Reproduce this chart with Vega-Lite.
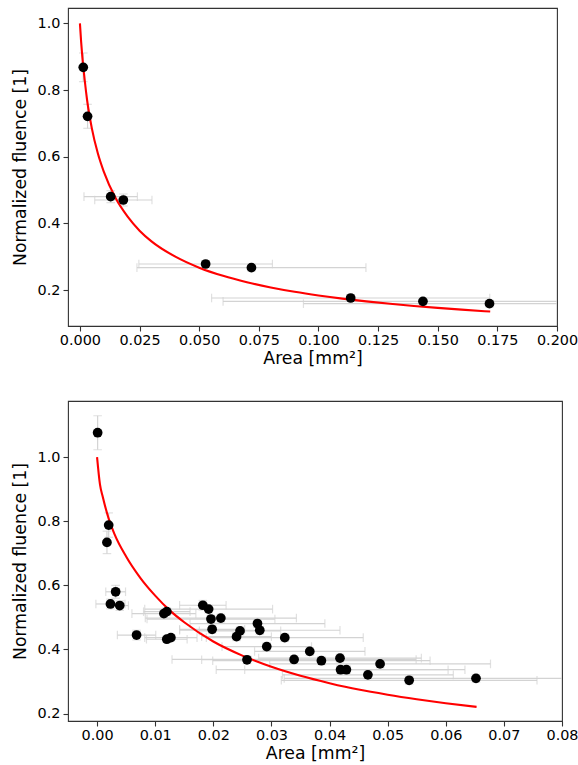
{
  "$schema": "https://vega.github.io/schema/vega-lite/v6.json",
  "padding": {"left": 10, "top": 7, "right": 0, "bottom": 0},
  "spacing": 32,
  "datasets": {
    "top": [
      {"a": 0.0014, "f": 0.868, "a_lo": 0.0009, "a_hi": 0.0019, "f_lo": 0.825, "f_hi": 0.911},
      {"a": 0.0032, "f": 0.721, "a_lo": 0.0024, "a_hi": 0.0040, "f_lo": 0.685, "f_hi": 0.757},
      {"a": 0.0129, "f": 0.480, "a_lo": 0.0017, "a_hi": 0.0241, "f_lo": 0.462, "f_hi": 0.498},
      {"a": 0.0182, "f": 0.470, "a_lo": 0.0062, "a_hi": 0.0302, "f_lo": 0.452, "f_hi": 0.488},
      {"a": 0.0527, "f": 0.278, "a_lo": 0.0247, "a_hi": 0.0807, "f_lo": 0.268, "f_hi": 0.288},
      {"a": 0.0719, "f": 0.267, "a_lo": 0.0239, "a_hi": 0.1199, "f_lo": 0.257, "f_hi": 0.277},
      {"a": 0.1135, "f": 0.176, "a_lo": 0.0552, "a_hi": 0.1718, "f_lo": 0.166, "f_hi": 0.186},
      {"a": 0.1438, "f": 0.166, "a_lo": 0.0600, "a_hi": 0.2276, "f_lo": 0.156, "f_hi": 0.176},
      {"a": 0.1717, "f": 0.159, "a_lo": 0.0937, "a_hi": 0.2497, "f_lo": 0.149, "f_hi": 0.169}
    ],
    "topfit": [
      {"a": 0, "f": 1.0}, {"a": 0.0005, "f": 0.945}, {"a": 0.001, "f": 0.90}, {"a": 0.002, "f": 0.83},
      {"a": 0.003, "f": 0.77}, {"a": 0.005, "f": 0.685}, {"a": 0.0075, "f": 0.61}, {"a": 0.01, "f": 0.555},
      {"a": 0.015, "f": 0.475}, {"a": 0.02, "f": 0.42}, {"a": 0.025, "f": 0.378}, {"a": 0.03, "f": 0.346},
      {"a": 0.04, "f": 0.30}, {"a": 0.05, "f": 0.267}, {"a": 0.06, "f": 0.2425}, {"a": 0.07, "f": 0.2233},
      {"a": 0.08, "f": 0.2077}, {"a": 0.09, "f": 0.1946}, {"a": 0.10, "f": 0.1836}, {"a": 0.11, "f": 0.1741},
      {"a": 0.12, "f": 0.1659}, {"a": 0.13, "f": 0.1586}, {"a": 0.14, "f": 0.1521}, {"a": 0.15, "f": 0.1463},
      {"a": 0.16, "f": 0.1411}, {"a": 0.172, "f": 0.1354}
    ],
    "bottom": [
      {"a": 0.0001, "f": 1.076, "a_lo": -0.0002, "a_hi": 0.0004, "f_lo": 1.023, "f_hi": 1.129},
      {"a": 0.0020, "f": 0.788, "a_lo": 0.0016, "a_hi": 0.0024, "f_lo": 0.750, "f_hi": 0.826},
      {"a": 0.0017, "f": 0.734, "a_lo": 0.0013, "a_hi": 0.0021, "f_lo": 0.699, "f_hi": 0.769},
      {"a": 0.0032, "f": 0.580, "a_lo": 0.0015, "a_hi": 0.0049, "f_lo": 0.560, "f_hi": 0.600},
      {"a": 0.0023, "f": 0.542, "a_lo": -0.0002, "a_hi": 0.0048, "f_lo": 0.527, "f_hi": 0.557},
      {"a": 0.0039, "f": 0.537, "a_lo": 0.0024, "a_hi": 0.0054, "f_lo": 0.522, "f_hi": 0.552},
      {"a": 0.0068, "f": 0.445, "a_lo": 0.0035, "a_hi": 0.0101, "f_lo": 0.430, "f_hi": 0.460},
      {"a": 0.0115, "f": 0.512, "a_lo": 0.0060, "a_hi": 0.0170, "f_lo": 0.500, "f_hi": 0.524},
      {"a": 0.0120, "f": 0.518, "a_lo": 0.0080, "a_hi": 0.0160, "f_lo": 0.506, "f_hi": 0.530},
      {"a": 0.0120, "f": 0.432, "a_lo": 0.0085, "a_hi": 0.0155, "f_lo": 0.422, "f_hi": 0.442},
      {"a": 0.0127, "f": 0.437, "a_lo": 0.0082, "a_hi": 0.0172, "f_lo": 0.427, "f_hi": 0.447},
      {"a": 0.0182, "f": 0.538, "a_lo": 0.0142, "a_hi": 0.0222, "f_lo": 0.523, "f_hi": 0.553},
      {"a": 0.0192, "f": 0.526, "a_lo": 0.0082, "a_hi": 0.0302, "f_lo": 0.514, "f_hi": 0.538},
      {"a": 0.0196, "f": 0.495, "a_lo": 0.0086, "a_hi": 0.0306, "f_lo": 0.483, "f_hi": 0.507},
      {"a": 0.0213, "f": 0.498, "a_lo": 0.0083, "a_hi": 0.0343, "f_lo": 0.486, "f_hi": 0.510},
      {"a": 0.0198, "f": 0.463, "a_lo": 0.0142, "a_hi": 0.0254, "f_lo": 0.451, "f_hi": 0.475},
      {"a": 0.0240, "f": 0.440, "a_lo": 0.0180, "a_hi": 0.0300, "f_lo": 0.428, "f_hi": 0.452},
      {"a": 0.0246, "f": 0.458, "a_lo": 0.0176, "a_hi": 0.0316, "f_lo": 0.446, "f_hi": 0.470},
      {"a": 0.0276, "f": 0.481, "a_lo": 0.0160, "a_hi": 0.0392, "f_lo": 0.469, "f_hi": 0.493},
      {"a": 0.0280, "f": 0.460, "a_lo": 0.0142, "a_hi": 0.0418, "f_lo": 0.448, "f_hi": 0.472},
      {"a": 0.0292, "f": 0.409, "a_lo": 0.0215, "a_hi": 0.0369, "f_lo": 0.397, "f_hi": 0.421},
      {"a": 0.0258, "f": 0.368, "a_lo": 0.0180, "a_hi": 0.0336, "f_lo": 0.356, "f_hi": 0.380},
      {"a": 0.0323, "f": 0.437, "a_lo": 0.0188, "a_hi": 0.0458, "f_lo": 0.425, "f_hi": 0.449},
      {"a": 0.0339, "f": 0.369, "a_lo": 0.0129, "a_hi": 0.0549, "f_lo": 0.357, "f_hi": 0.381},
      {"a": 0.0366, "f": 0.394, "a_lo": 0.0271, "a_hi": 0.0461, "f_lo": 0.382, "f_hi": 0.406},
      {"a": 0.0386, "f": 0.365, "a_lo": 0.0199, "a_hi": 0.0573, "f_lo": 0.353, "f_hi": 0.377},
      {"a": 0.0418, "f": 0.373, "a_lo": 0.0278, "a_hi": 0.0558, "f_lo": 0.361, "f_hi": 0.385},
      {"a": 0.0419, "f": 0.337, "a_lo": 0.0205, "a_hi": 0.0633, "f_lo": 0.325, "f_hi": 0.349},
      {"a": 0.0429, "f": 0.337, "a_lo": 0.0254, "a_hi": 0.0604, "f_lo": 0.325, "f_hi": 0.349},
      {"a": 0.0466, "f": 0.321, "a_lo": 0.0319, "a_hi": 0.0613, "f_lo": 0.309, "f_hi": 0.333},
      {"a": 0.0487, "f": 0.355, "a_lo": 0.0297, "a_hi": 0.0677, "f_lo": 0.343, "f_hi": 0.367},
      {"a": 0.0537, "f": 0.304, "a_lo": 0.0317, "a_hi": 0.0757, "f_lo": 0.292, "f_hi": 0.316},
      {"a": 0.0652, "f": 0.310, "a_lo": 0.0322, "a_hi": 0.0982, "f_lo": 0.298, "f_hi": 0.322}
    ],
    "bottomfit": [
      {"a": 0, "f": 1.0}, {"a": 0.0005, "f": 0.915}, {"a": 0.001, "f": 0.875}, {"a": 0.002, "f": 0.808},
      {"a": 0.003, "f": 0.76}, {"a": 0.005, "f": 0.69}, {"a": 0.0075, "f": 0.622}, {"a": 0.01, "f": 0.568},
      {"a": 0.0125, "f": 0.522}, {"a": 0.015, "f": 0.485}, {"a": 0.02, "f": 0.425}, {"a": 0.025, "f": 0.381},
      {"a": 0.03, "f": 0.346}, {"a": 0.035, "f": 0.318}, {"a": 0.04, "f": 0.295}, {"a": 0.045, "f": 0.275},
      {"a": 0.05, "f": 0.259}, {"a": 0.055, "f": 0.245}, {"a": 0.06, "f": 0.2325}, {"a": 0.0653, "f": 0.221}
    ]
  },
  "vconcat": [
    {
      "width": 489,
      "height": 318,
      "layer": [
        {
          "data": {"name": "top"},
          "mark": {"type": "rule", "color": "#d3d3d3", "strokeWidth": 1.2, "clip": true},
          "encoding": {
            "x": {"field": "a_lo", "type": "quantitative", "title": "Area [mm²]",
                  "scale": {"domain": [-0.005, 0.2], "nice": false, "zero": false},
                  "axis": {"values": [0, 0.025, 0.05, 0.075, 0.1, 0.125, 0.15, 0.175, 0.2], "format": ".3f"}},
            "x2": {"field": "a_hi"},
            "y": {"field": "f", "type": "quantitative", "title": "Normalized fluence [1]",
                  "scale": {"domain": [0.092, 1.046], "nice": false, "zero": false},
                  "axis": {"values": [0.2, 0.4, 0.6, 0.8, 1.0], "format": ".1f"}}
          }
        },
        {
          "data": {"name": "top"},
          "mark": {"type": "tick", "orient": "vertical", "color": "#d3d3d3", "thickness": 1.2, "size": 8.6, "clip": true},
          "encoding": {
            "x": {"field": "a_lo", "type": "quantitative", "title": "Area [mm²]"},
            "y": {"field": "f", "type": "quantitative", "title": "Normalized fluence [1]"}
          }
        },
        {
          "data": {"name": "top"},
          "mark": {"type": "tick", "orient": "vertical", "color": "#d3d3d3", "thickness": 1.2, "size": 8.6, "clip": true},
          "encoding": {
            "x": {"field": "a_hi", "type": "quantitative", "title": "Area [mm²]"},
            "y": {"field": "f", "type": "quantitative", "title": "Normalized fluence [1]"}
          }
        },
        {
          "data": {"name": "top"},
          "mark": {"type": "rule", "color": "#d3d3d3", "strokeWidth": 1.2, "clip": true},
          "encoding": {
            "x": {"field": "a", "type": "quantitative", "title": "Area [mm²]"},
            "y": {"field": "f_lo", "type": "quantitative", "title": "Normalized fluence [1]"},
            "y2": {"field": "f_hi"}
          }
        },
        {
          "data": {"name": "top"},
          "mark": {"type": "tick", "orient": "horizontal", "color": "#d3d3d3", "thickness": 1.2, "size": 8.6, "clip": true},
          "encoding": {
            "x": {"field": "a", "type": "quantitative", "title": "Area [mm²]"},
            "y": {"field": "f_lo", "type": "quantitative", "title": "Normalized fluence [1]"}
          }
        },
        {
          "data": {"name": "top"},
          "mark": {"type": "tick", "orient": "horizontal", "color": "#d3d3d3", "thickness": 1.2, "size": 8.6, "clip": true},
          "encoding": {
            "x": {"field": "a", "type": "quantitative", "title": "Area [mm²]"},
            "y": {"field": "f_hi", "type": "quantitative", "title": "Normalized fluence [1]"}
          }
        },
        {
          "data": {"name": "topfit"},
          "mark": {"type": "line", "color": "#ff0000", "strokeWidth": 2.1, "interpolate": "monotone", "clip": true},
          "encoding": {
            "x": {"field": "a", "type": "quantitative", "title": "Area [mm²]"},
            "y": {"field": "f", "type": "quantitative", "title": "Normalized fluence [1]"}
          }
        },
        {
          "data": {"name": "top"},
          "mark": {"type": "point", "filled": true, "color": "#000000", "size": 95, "opacity": 1},
          "encoding": {
            "x": {"field": "a", "type": "quantitative", "title": "Area [mm²]"},
            "y": {"field": "f", "type": "quantitative", "title": "Normalized fluence [1]"}
          }
        }
      ]
    },
    {
      "width": 494,
      "height": 320,
      "layer": [
        {
          "data": {"name": "bottom"},
          "mark": {"type": "rule", "color": "#d3d3d3", "strokeWidth": 1.2, "clip": true},
          "encoding": {
            "x": {"field": "a_lo", "type": "quantitative", "title": "Area [mm²]",
                  "scale": {"domain": [-0.005, 0.08], "nice": false, "zero": false},
                  "axis": {"values": [0, 0.01, 0.02, 0.03, 0.04, 0.05, 0.06, 0.07, 0.08], "format": ".2f"}},
            "x2": {"field": "a_hi"},
            "y": {"field": "f", "type": "quantitative", "title": "Normalized fluence [1]",
                  "scale": {"domain": [0.177, 1.175], "nice": false, "zero": false},
                  "axis": {"values": [0.2, 0.4, 0.6, 0.8, 1.0], "format": ".1f"}}
          }
        },
        {
          "data": {"name": "bottom"},
          "mark": {"type": "tick", "orient": "vertical", "color": "#d3d3d3", "thickness": 1.2, "size": 8.6, "clip": true},
          "encoding": {
            "x": {"field": "a_lo", "type": "quantitative", "title": "Area [mm²]"},
            "y": {"field": "f", "type": "quantitative", "title": "Normalized fluence [1]"}
          }
        },
        {
          "data": {"name": "bottom"},
          "mark": {"type": "tick", "orient": "vertical", "color": "#d3d3d3", "thickness": 1.2, "size": 8.6, "clip": true},
          "encoding": {
            "x": {"field": "a_hi", "type": "quantitative", "title": "Area [mm²]"},
            "y": {"field": "f", "type": "quantitative", "title": "Normalized fluence [1]"}
          }
        },
        {
          "data": {"name": "bottom"},
          "mark": {"type": "rule", "color": "#d3d3d3", "strokeWidth": 1.2, "clip": true},
          "encoding": {
            "x": {"field": "a", "type": "quantitative", "title": "Area [mm²]"},
            "y": {"field": "f_lo", "type": "quantitative", "title": "Normalized fluence [1]"},
            "y2": {"field": "f_hi"}
          }
        },
        {
          "data": {"name": "bottom"},
          "mark": {"type": "tick", "orient": "horizontal", "color": "#d3d3d3", "thickness": 1.2, "size": 8.6, "clip": true},
          "encoding": {
            "x": {"field": "a", "type": "quantitative", "title": "Area [mm²]"},
            "y": {"field": "f_lo", "type": "quantitative", "title": "Normalized fluence [1]"}
          }
        },
        {
          "data": {"name": "bottom"},
          "mark": {"type": "tick", "orient": "horizontal", "color": "#d3d3d3", "thickness": 1.2, "size": 8.6, "clip": true},
          "encoding": {
            "x": {"field": "a", "type": "quantitative", "title": "Area [mm²]"},
            "y": {"field": "f_hi", "type": "quantitative", "title": "Normalized fluence [1]"}
          }
        },
        {
          "data": {"name": "bottomfit"},
          "mark": {"type": "line", "color": "#ff0000", "strokeWidth": 2.1, "interpolate": "monotone", "clip": true},
          "encoding": {
            "x": {"field": "a", "type": "quantitative", "title": "Area [mm²]"},
            "y": {"field": "f", "type": "quantitative", "title": "Normalized fluence [1]"}
          }
        },
        {
          "data": {"name": "bottom"},
          "mark": {"type": "point", "filled": true, "color": "#000000", "size": 95, "opacity": 1},
          "encoding": {
            "x": {"field": "a", "type": "quantitative", "title": "Area [mm²]"},
            "y": {"field": "f", "type": "quantitative", "title": "Normalized fluence [1]"}
          }
        }
      ]
    }
  ],
  "config": {
    "font": "DejaVu Sans",
    "background": "#ffffff",
    "view": {"stroke": "#333333", "strokeWidth": 1.1},
    "axis": {
      "domain": false,
      "grid": false,
      "tickSize": 5,
      "tickColor": "#333333",
      "tickWidth": 1.1,
      "labelFont": "DejaVu Sans",
      "labelFontSize": 14.4,
      "labelColor": "#000000",
      "titleFont": "DejaVu Sans",
      "titleFontSize": 17.3,
      "titleFontWeight": "normal",
      "titleColor": "#000000",
      "labelPadding": 3,
      "labelFlush": false,
      "labelOverlap": false
    },
    "axisX": {"titlePadding": 3, "labelPadding": 2},
    "axisY": {"titlePadding": 8}
  }
}
